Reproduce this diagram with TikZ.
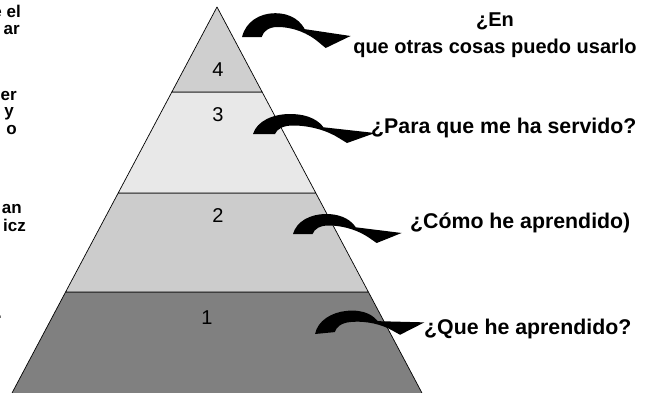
\documentclass[tikz,border=0pt]{standalone}
\usepackage{fontspec}
\setmainfont{Liberation Sans}
\definecolor{layfour}{HTML}{CFCFCF}
\definecolor{laythree}{HTML}{E8E8E8}
\definecolor{laytwo}{HTML}{CCCCCC}
\definecolor{layone}{HTML}{808080}
\begin{document}
\begin{tikzpicture}[x=1pt,y=-1pt,
  layer/.style={draw=black, line width=0.7pt, line join=round},
  num/.style={font=\fontsize{20}{24}\selectfont, inner sep=0pt},
  qlabel/.style={font=\fontsize{21.3}{25}\selectfont\bfseries, inner sep=0pt, align=center},
  toplabel/.style={font=\fontsize{20}{27}\selectfont\bfseries, inner sep=0pt, align=center},
  sidetext/.style={font=\fontsize{17}{18}\selectfont\bfseries, inner sep=0pt, anchor=base east},
  curvedarrow/.pic={
    \fill[black] (0,1) .. controls (4,-12) and (20,-19) .. (37,-19)
      .. controls (56,-19) and (67,-12) .. (71.9,-3.6)
      -- (68,-6) -- (122,0) -- (94,10) -- (86.2,5.2)
      .. controls (75,-2) and (58,-7.5) .. (40,-7.5)
      .. controls (30,-7.5) and (24,-4) .. (22,1) -- cycle;
  }
]
\useasboundingbox (0,0) rectangle (662,392);
\clip (0,0) rectangle (662,392);

% pyramid layers
\coordinate (apex) at (217,7);
\fill[white] (0,0) rectangle (662,392);
\filldraw[layer, fill=layone] (65.6,292) -- (368.4,292) -- (425.7,400) -- (8.3,400) -- cycle;
\filldraw[layer, fill=laytwo] (118.2,193) -- (315.8,193) -- (368.4,292) -- (65.6,292) -- cycle;
\filldraw[layer, fill=laythree] (171.85,92) -- (262.15,92) -- (315.8,193) -- (118.2,193) -- cycle;
\filldraw[layer, fill=layfour] (apex) -- (262.15,92) -- (171.85,92) -- cycle;

% numbers
\node[num] (n4) at (218,70) {4};
\node[num] (n3) at (218,115) {3};
\node[num] (n2) at (218,216) {2};
\node[num] (n1) at (207,318) {1};

% curved arrows
\pic (a4) [xscale=0.89, yscale=1.2] at (242,36) {curvedarrow};
\pic (a3) at (253,133) {curvedarrow};
\pic (a2) [xscale=0.89, yscale=1.0] at (293,233) {curvedarrow};
\pic (a1) [xscale=0.9, yscale=1.0, rotate=5] at (315,333) {curvedarrow};

% questions
\node[toplabel] (q4) at (495,35) {¿En\\que otras cosas puedo usarlo};
\node[qlabel, anchor=west] (q3) at (371,128) {¿Para que me ha servido?};
\node[qlabel, anchor=west] (q2) at (410,223) {¿Cómo he aprendido)};
\node[qlabel, anchor=west] (q1) at (424,329) {¿Que he aprendido?};

% cut-off text on the left
\node[sidetext] (s1) at (21,17) {e el};
\node[sidetext] (s2) at (20,34) {ar};
\node[sidetext] (s3) at (17,100) {er};
\node[sidetext] (s4) at (14,116) {y};
\node[sidetext] (s5) at (17,134) {o};
\node[sidetext] (s6) at (22,213) {an};
\node[sidetext] (s7) at (26,231) {icz};
\node[sidetext] (s8) at (2,318) {.};
\end{tikzpicture}
\end{document}
